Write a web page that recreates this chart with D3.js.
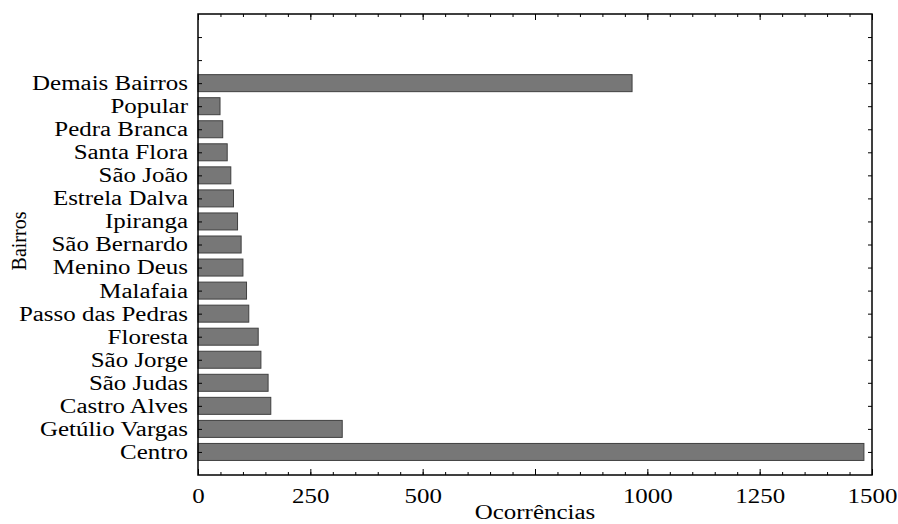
<!DOCTYPE html>
<html>
<head>
<meta charset="utf-8">
<script src="https://cdn.jsdelivr.net/npm/d3@7"></script>
<style>
  body { margin: 0; background: #fff; }
  svg { display: block; }
  svg text { font-family: "Liberation Serif", "Times New Roman", Times, serif; font-size: 20px; fill: #000; }
</style>
</head>
<body>
<div id="chart"></div>
<script>
// bairros, de baixo para cima
const bairros = ["Centro", "Getúlio Vargas", "Castro Alves", "São Judas", "São Jorge",
  "Floresta", "Passo das Pedras", "Malafaia", "Menino Deus", "São Bernardo", "Ipiranga",
  "Estrela Dalva", "São João", "Santa Flora", "Pedra Branca", "Popular", "Demais Bairros"];
const ocorrencias = [1482, 321, 162, 156, 140, 134, 113, 108, 100, 96, 88, 79, 73, 65, 55, 49, 966];
const xTicks = [0, 250, 500, 750, 1000, 1250, 1500];
const xTickLabels = ["0", "250", "500", "", "1000", "1250", "1500"];

const width = 898, height = 524;
const margin = {top: 14, right: 26, bottom: 49, left: 198};

const svg = d3.select("#chart").append("svg")
  .attr("width", width)
  .attr("height", height);

const x = d3.scaleLinear().domain([0, 1500]).range([margin.left, width - margin.right]);
// two empty slots above the last bar
const nSlots = bairros.length + 2;
const y = d3.scaleLinear().domain([-1, nSlots]).range([height - margin.bottom, margin.top]);
const barH = 17;

// bars
svg.append("g")
  .selectAll("rect")
  .data(ocorrencias)
  .join("rect")
  .attr("x", x(0))
  .attr("y", (d, i) => y(i) - barH / 2)
  .attr("width", d => x(d) - x(0))
  .attr("height", barH)
  .style("fill", "#777777")
  .style("stroke", "#404040")
  .style("stroke-width", 1);

const minor = d3.range(0, 1501, 50);
const slots = d3.range(nSlots);

function styleAxis(g) {
  g.attr("font-family", null).attr("font-size", null);
  g.select(".domain").remove();
  g.selectAll("line").attr("stroke", "#000").attr("stroke-width", 1);
}

// bottom axis
svg.append("g")
  .attr("transform", `translate(0,${y(-1)})`)
  .call(d3.axisBottom(x).tickValues(minor).tickSize(-3).tickFormat(""))
  .call(styleAxis);
const bottom = svg.append("g")
  .attr("transform", `translate(0,${y(-1)})`)
  .call(d3.axisBottom(x).tickValues(xTicks).tickSize(-6).tickPadding(14)
    .tickFormat((d, i) => xTickLabels[i]))
  .call(styleAxis);

// top axis
svg.append("g")
  .attr("transform", `translate(0,${y(nSlots)})`)
  .call(d3.axisTop(x).tickValues(minor).tickSize(-3).tickFormat(""))
  .call(styleAxis);
svg.append("g")
  .attr("transform", `translate(0,${y(nSlots)})`)
  .call(d3.axisTop(x).tickValues(xTicks).tickSize(-6).tickFormat(""))
  .call(styleAxis);

// left axis
const left = svg.append("g")
  .attr("transform", `translate(${x(0)},0)`)
  .call(d3.axisLeft(y).tickValues(slots).tickSize(-4).tickPadding(8)
    .tickFormat(i => bairros[i] || ""))
  .call(styleAxis);

// right axis
svg.append("g")
  .attr("transform", `translate(${x(1500)},0)`)
  .call(d3.axisRight(y).tickValues(slots).tickSize(-4).tickFormat(""))
  .call(styleAxis);

// frame
svg.append("rect")
  .attr("x", x(0))
  .attr("y", y(nSlots))
  .attr("width", x(1500) - x(0))
  .attr("height", y(-1) - y(nSlots))
  .style("fill", "none")
  .style("stroke", "#000")
  .style("stroke-width", 1.5);

// the original text is stretched sideways; fit "Demais Bairros" to its width in the picture
let stretch = 1;
left.selectAll("text").each(function(d) {
  if (bairros[d] === "Demais Bairros") stretch = 156 / this.getComputedTextLength();
});
left.selectAll("text").attr("transform", `scale(${stretch},1)`);
bottom.selectAll("text").attr("transform", `scale(${stretch},1)`);

// axis titles
svg.append("text")
  .attr("transform", `translate(${(x(0) + x(1500)) / 2},519) scale(${stretch},1)`)
  .attr("text-anchor", "middle")
  .text("Ocorrências");

svg.append("text")
  .attr("transform", "translate(26,241) rotate(-90)")
  .attr("text-anchor", "middle")
  .text("Bairros");
</script>
</body>
</html>
